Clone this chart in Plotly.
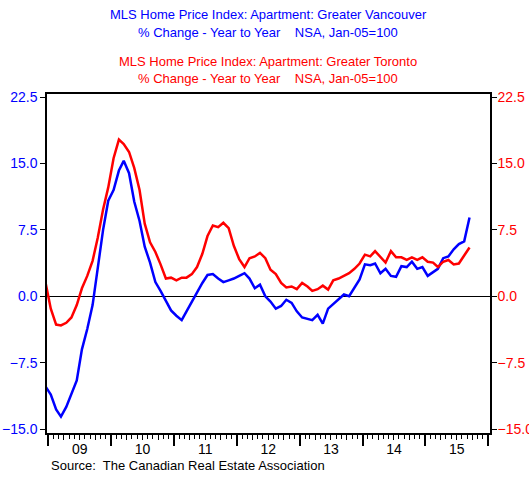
import pandas as pd
import plotly.graph_objects as go

# monthly, Dec 2008 - Sep 2015, % change y/y (plotted mid-month)
months = pd.date_range('2008-12-01', periods=82, freq='MS') + pd.Timedelta(days=14)

vancouver = [-10.2,
             -11.1, -12.8, -13.6, -12.5, -11.0, -9.5, -6.0, -3.7, -1.0, 3.0, 7.5, 10.8,
             12.0, 14.2, 15.3, 13.9, 10.7, 8.5, 5.6, 3.8, 1.6, 0.6, -0.5, -1.6,
             -2.2, -2.7, -1.7, -0.6, 0.5, 1.5, 2.4, 2.5, 2.0, 1.6, 1.8, 2.0,
             2.3, 2.6, 2.0, 0.9, 1.3, 0.0, -0.6, -1.4, -1.1, -0.4, -0.75, -1.7,
             -2.4, -2.6, -2.7, -2.1, -3.1, -1.4, -0.9, -0.4, 0.2, 0.0, 0.9, 1.9,
             3.6, 3.5, 3.7, 2.6, 3.1, 2.3, 2.2, 3.4, 3.3, 3.9, 3.1, 3.3,
             2.3, 2.7, 3.1, 4.3, 4.5, 5.3, 5.9, 6.2, 8.9]

toronto = [1.6,
           -1.4, -3.2, -3.3, -3.0, -2.4, -1.0, 0.9, 2.3, 4.0, 6.6, 9.8, 12.3,
           15.6, 17.7, 17.2, 16.3, 14.5, 12.0, 8.2, 6.1, 5.0, 3.6, 2.0, 2.1,
           1.8, 2.1, 2.1, 2.5, 3.3, 4.8, 6.8, 8.0, 7.8, 8.3, 7.7, 5.7,
           4.2, 3.3, 4.3, 4.5, 4.9, 4.3, 3.0, 2.5, 1.5, 1.0, 1.1, 0.8,
           1.5, 1.1, 0.6, 0.8, 1.2, 0.75, 1.8, 2.0, 2.3, 2.6, 3.1, 3.7,
           4.7, 4.5, 5.1, 4.4, 3.8, 5.1, 4.4, 4.4, 4.1, 4.4, 4.1, 4.4,
           3.9, 3.8, 3.3, 3.9, 4.1, 3.6, 3.7, 4.6, 5.5]

y_ticks = [-15.0, -7.5, 0.0, 7.5, 15.0, 22.5]
y_range = [-15.45, 22.85]
x_range = ['2008-12-24', '2016-01-12']

FONT = 'Liberation Sans, Arial, sans-serif'
W, H = 529, 479
M = dict(l=47, r=39, t=94, b=46)

trace_van = go.Scatter(x=months, y=vancouver, mode='lines',
                       line=dict(color='#0000FF', width=2.5),
                       showlegend=False, yaxis='y')
trace_tor = go.Scatter(x=months, y=toronto, mode='lines',
                       line=dict(color='#FF0000', width=2.5),
                       showlegend=False, yaxis='y2')
# carries the quarterly tick axis
trace_q = go.Scatter(x=[months[1]], y=[None], xaxis='x2', showlegend=False,
                     hoverinfo='skip')


def py(px):
    # pixel row on the page -> paper y
    return (H - M['b'] - px) / (H - M['t'] - M['b'])


def px_(x):
    # pixel column on the page -> paper x
    return (x - M['l']) / (W - M['l'] - M['r'])


def note(text, y, color, size=13, x=268.4, xanchor='center'):
    return dict(text=text, x=px_(x), y=py(y), xref='paper', yref='paper',
                xanchor=xanchor, yanchor='middle', showarrow=False,
                font=dict(size=size, color=color))


layout = go.Layout(
    width=W, height=H,
    margin=dict(M, autoexpand=False),
    paper_bgcolor='white', plot_bgcolor='white',
    font=dict(family=FONT, size=14, color='black'),
    xaxis=dict(range=x_range, tick0='2009-01-01', dtick='M12', tickformat='%y',
               ticklabelmode='period', ticks='outside', ticklen=11, tickwidth=1.5,
               tickcolor='black', showline=True, linecolor='black', linewidth=1.5,
               mirror=True, showgrid=False, zeroline=False, automargin=False,
               ticklabelstandoff=-9,
               tickfont=dict(size=14, color='black'),
               minor=dict(dtick='M1', tick0='2009-01-01', ticks='outside',
                          ticklen=4, tickcolor='black', tickwidth=1, showgrid=False)),
    xaxis2=dict(range=x_range, overlaying='x', anchor='y', side='bottom',
                tick0='2009-01-01', dtick='M3', ticks='outside', ticklen=6,
                tickwidth=1, tickcolor='black', showticklabels=False,
                showline=False, showgrid=False, zeroline=False, automargin=False),
    yaxis=dict(range=y_range, tickvals=y_ticks, tickformat='.1f', ticks='outside',
               ticklen=5, tickcolor='black', showline=True, linecolor='black',
               linewidth=1.5, showgrid=False, zeroline=True, zerolinecolor='black',
               zerolinewidth=1, automargin=False,
               tickfont=dict(size=14, color='#0000FF')),
    yaxis2=dict(range=y_range, tickvals=y_ticks, tickformat='.1f', overlaying='y',
                side='right', ticks='outside', ticklen=5, tickcolor='black',
                showline=True, linecolor='black', linewidth=1.5, showgrid=False,
                zeroline=False, automargin=False, ticklabelstandoff=-2,
                tickfont=dict(size=14, color='#FF0000')),
    annotations=[
        note('MLS Home Price Index: Apartment: Greater Vancouver', 15, '#0000FF'),
        note('% Change - Year to Year    NSA, Jan-05=100', 32, '#0000FF'),
        note('MLS Home Price Index: Apartment: Greater Toronto', 61, '#FF0000'),
        note('% Change - Year to Year    NSA, Jan-05=100', 78, '#FF0000'),
        note('Source:  The Canadian Real Estate Association', 465, 'black',
             x=49, xanchor='left'),
    ],
)

fig = go.Figure(data=[trace_van, trace_tor, trace_q], layout=layout)
# drop the browser's default body margin so the figure sits at the page corner
fig.write_html('out.html', config={'displayModeBar': False},
               post_script="document.body.style.margin='0';")
